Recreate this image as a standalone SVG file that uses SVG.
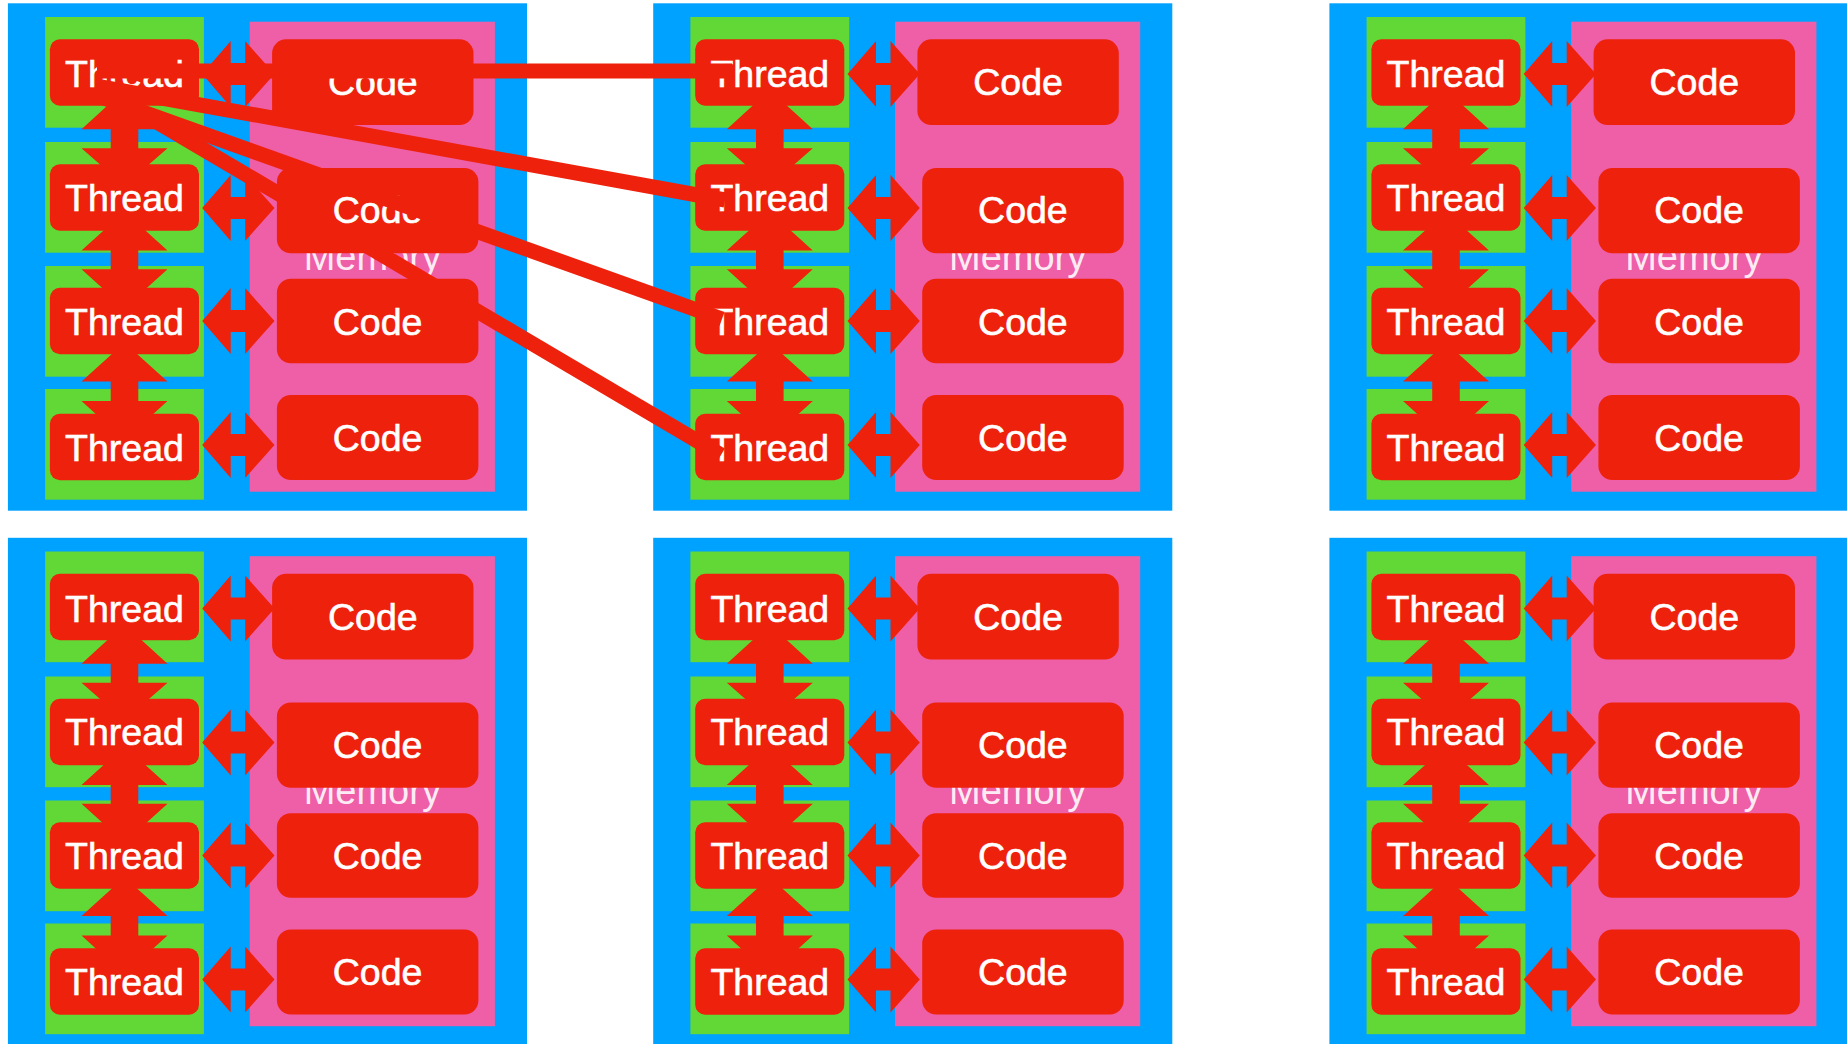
<svg xmlns="http://www.w3.org/2000/svg" xmlns:xlink="http://www.w3.org/1999/xlink" width="1847" height="1044" viewBox="0 0 1847 1044">
  <defs>
    <style>
      .panel { fill: #00A2FF; }
      .cell { fill: #61D836; }
      .mem { fill: #EF5FA7; }
      .box { fill: #EE220C; }
      .lbl { font-family: "Liberation Sans", Arial, Helvetica, sans-serif; font-size: 37.5px; fill: #FFFFFF; stroke: #FFFFFF; stroke-width: 0.6px; text-anchor: middle; }
      .memlbl { font-family: "Liberation Sans", Arial, Helvetica, sans-serif; font-size: 38px; fill: #FFFFFF; fill-opacity: 0.9; text-anchor: middle; }
      .arrow { fill: #EE220C; }
      .link { stroke: #EE220C; stroke-width: 15; fill: none; stroke-linecap: butt; }
    </style>
    <!-- double-headed block arrow between a thread and its code, centred on y=0 -->
    <path id="h-arrow" d="M202.2 0 L230.7 -33 L230.7 -11 L245.2 -11 L245.2 -33 L274.5 0 L245.2 33 L245.2 11 L230.7 11 L230.7 33 Z"/>
    <!-- vertical double arrows between neighbouring threads (tips tucked under the thread boxes) -->
    <g id="v-arrows">
      <polygon points="108.05,105 140.95,105 167.5,129.2 138.3,129.2 138.3,148.3 167.5,148.3 148.1,165.3 100.9,165.3 81.5,148.3 110.7,148.3 110.7,129.2 81.5,129.2"/>
      <polygon points="104.43,229.7 144.57,229.7 167.5,250.5 138.3,250.5 138.3,269.3 167.5,269.3 145.94,288.7 103.06,288.7 81.5,269.3 110.7,269.3 110.7,250.5 81.5,250.5"/>
      <polygon points="113.03,353 135.97,353 167.5,381.6 138.3,381.6 138.3,401 167.5,401 152.4,414.7 96.6,414.7 81.5,401 110.7,401 110.7,381.6 81.5,381.6"/>
    </g>
    <g id="h-arrows">
      <use xlink:href="#h-arrow" href="#h-arrow" y="74"/>
      <use xlink:href="#h-arrow" href="#h-arrow" y="208"/>
      <use xlink:href="#h-arrow" href="#h-arrow" y="321"/>
      <use xlink:href="#h-arrow" href="#h-arrow" y="445"/>
    </g>
  </defs>

  <rect width="1847" height="1044" fill="#FFFFFF"/>

  <!-- ===== Panel 1 (top left) ===== -->
  <g id="panel-1">
    <rect class="panel" x="7.9" y="3.3" width="519.1" height="507.4"/>
    <rect class="cell" x="45.1" y="17" width="158.8" height="110.7"/>
    <rect class="cell" x="45.1" y="142" width="158.8" height="110.7"/>
    <rect class="cell" x="45.1" y="266" width="158.8" height="110.7"/>
    <rect class="cell" x="45.1" y="389" width="158.8" height="110.7"/>
    <g id="p1-memory"><rect class="mem" x="249.7" y="21.7" width="245.2" height="470"/><text class="memlbl" x="372.3" y="269.5">Memory</text></g>
    <g id="p1-code-1"><rect class="box" x="272.1" y="39.3" width="201.4" height="85.7" rx="14"/><text class="lbl" x="372.8" y="95">Code</text></g>
    <g id="p1-code-2"><rect class="box" x="276.9" y="168" width="201.5" height="85.3" rx="14"/><text class="lbl" x="377.6" y="223.3">Code</text></g>
    <g id="p1-code-3"><rect class="box" x="276.9" y="278.7" width="201.5" height="84.6" rx="14"/><text class="lbl" x="377.6" y="334.5">Code</text></g>
    <g id="p1-code-4"><rect class="box" x="276.9" y="395" width="201.5" height="85" rx="14"/><text class="lbl" x="377.6" y="450.5">Code</text></g>
    <g id="p1-thread-1"><rect class="box" x="49.9" y="39.3" width="149.1" height="66.5" rx="10"/><text class="lbl" x="124.5" y="87">Thread</text></g>
    <g id="p1-thread-2"><rect class="box" x="49.9" y="164.3" width="149.1" height="66.5" rx="10"/><text class="lbl" x="124.5" y="210.5">Thread</text></g>
    <g id="p1-thread-3"><rect class="box" x="49.9" y="287.7" width="149.1" height="66.5" rx="10"/><text class="lbl" x="124.5" y="334.5">Thread</text></g>
    <g id="p1-thread-4"><rect class="box" x="49.9" y="413.7" width="149.1" height="66.5" rx="10"/><text class="lbl" x="124.5" y="460.5">Thread</text></g>
  </g>

  <!-- ===== Panel 2 (top middle) ===== -->
  <g id="panel-2" transform="translate(645.3 0)">
    <rect class="panel" x="7.9" y="3.3" width="519.1" height="507.4"/>
    <rect class="cell" x="45.1" y="17" width="158.8" height="110.7"/>
    <rect class="cell" x="45.1" y="142" width="158.8" height="110.7"/>
    <rect class="cell" x="45.1" y="266" width="158.8" height="110.7"/>
    <rect class="cell" x="45.1" y="389" width="158.8" height="110.7"/>
    <g id="p2-memory"><rect class="mem" x="249.7" y="21.7" width="245.2" height="470"/><text class="memlbl" x="372.3" y="269.5">Memory</text></g>
    <g id="p2-code-1"><rect class="box" x="272.1" y="39.3" width="201.4" height="85.7" rx="14"/><text class="lbl" x="372.8" y="95">Code</text></g>
    <g id="p2-code-2"><rect class="box" x="276.9" y="168" width="201.5" height="85.3" rx="14"/><text class="lbl" x="377.6" y="223.3">Code</text></g>
    <g id="p2-code-3"><rect class="box" x="276.9" y="278.7" width="201.5" height="84.6" rx="14"/><text class="lbl" x="377.6" y="334.5">Code</text></g>
    <g id="p2-code-4"><rect class="box" x="276.9" y="395" width="201.5" height="85" rx="14"/><text class="lbl" x="377.6" y="450.5">Code</text></g>
    <g id="p2-thread-1"><rect class="box" x="49.9" y="39.3" width="149.1" height="66.5" rx="10"/><text class="lbl" x="124.5" y="87">Thread</text></g>
    <g id="p2-thread-2"><rect class="box" x="49.9" y="164.3" width="149.1" height="66.5" rx="10"/><text class="lbl" x="124.5" y="210.5">Thread</text></g>
    <g id="p2-thread-3"><rect class="box" x="49.9" y="287.7" width="149.1" height="66.5" rx="10"/><text class="lbl" x="124.5" y="334.5">Thread</text></g>
    <g id="p2-thread-4"><rect class="box" x="49.9" y="413.7" width="149.1" height="66.5" rx="10"/><text class="lbl" x="124.5" y="460.5">Thread</text></g>
  </g>

  <!-- ===== Panel 3 (top right) ===== -->
  <g id="panel-3" transform="translate(1321.5 0)">
    <rect class="panel" x="7.9" y="3.3" width="519.1" height="507.4"/>
    <rect class="cell" x="45.1" y="17" width="158.8" height="110.7"/>
    <rect class="cell" x="45.1" y="142" width="158.8" height="110.7"/>
    <rect class="cell" x="45.1" y="266" width="158.8" height="110.7"/>
    <rect class="cell" x="45.1" y="389" width="158.8" height="110.7"/>
    <g id="p3-memory"><rect class="mem" x="249.7" y="21.7" width="245.2" height="470"/><text class="memlbl" x="372.3" y="269.5">Memory</text></g>
    <g id="p3-code-1"><rect class="box" x="272.1" y="39.3" width="201.4" height="85.7" rx="14"/><text class="lbl" x="372.8" y="95">Code</text></g>
    <g id="p3-code-2"><rect class="box" x="276.9" y="168" width="201.5" height="85.3" rx="14"/><text class="lbl" x="377.6" y="223.3">Code</text></g>
    <g id="p3-code-3"><rect class="box" x="276.9" y="278.7" width="201.5" height="84.6" rx="14"/><text class="lbl" x="377.6" y="334.5">Code</text></g>
    <g id="p3-code-4"><rect class="box" x="276.9" y="395" width="201.5" height="85" rx="14"/><text class="lbl" x="377.6" y="450.5">Code</text></g>
    <g id="p3-thread-1"><rect class="box" x="49.9" y="39.3" width="149.1" height="66.5" rx="10"/><text class="lbl" x="124.5" y="87">Thread</text></g>
    <g id="p3-thread-2"><rect class="box" x="49.9" y="164.3" width="149.1" height="66.5" rx="10"/><text class="lbl" x="124.5" y="210.5">Thread</text></g>
    <g id="p3-thread-3"><rect class="box" x="49.9" y="287.7" width="149.1" height="66.5" rx="10"/><text class="lbl" x="124.5" y="334.5">Thread</text></g>
    <g id="p3-thread-4"><rect class="box" x="49.9" y="413.7" width="149.1" height="66.5" rx="10"/><text class="lbl" x="124.5" y="460.5">Thread</text></g>
  </g>

  <!-- ===== Panel 4 (bottom left) ===== -->
  <g id="panel-4" transform="translate(0 534.5)">
    <rect class="panel" x="7.9" y="3.3" width="519.1" height="507.4"/>
    <rect class="cell" x="45.1" y="17" width="158.8" height="110.7"/>
    <rect class="cell" x="45.1" y="142" width="158.8" height="110.7"/>
    <rect class="cell" x="45.1" y="266" width="158.8" height="110.7"/>
    <rect class="cell" x="45.1" y="389" width="158.8" height="110.7"/>
    <g id="p4-memory"><rect class="mem" x="249.7" y="21.7" width="245.2" height="470"/><text class="memlbl" x="372.3" y="269.5">Memory</text></g>
    <g id="p4-code-1"><rect class="box" x="272.1" y="39.3" width="201.4" height="85.7" rx="14"/><text class="lbl" x="372.8" y="95">Code</text></g>
    <g id="p4-code-2"><rect class="box" x="276.9" y="168" width="201.5" height="85.3" rx="14"/><text class="lbl" x="377.6" y="223.3">Code</text></g>
    <g id="p4-code-3"><rect class="box" x="276.9" y="278.7" width="201.5" height="84.6" rx="14"/><text class="lbl" x="377.6" y="334.5">Code</text></g>
    <g id="p4-code-4"><rect class="box" x="276.9" y="395" width="201.5" height="85" rx="14"/><text class="lbl" x="377.6" y="450.5">Code</text></g>
    <g id="p4-thread-1"><rect class="box" x="49.9" y="39.3" width="149.1" height="66.5" rx="10"/><text class="lbl" x="124.5" y="87">Thread</text></g>
    <g id="p4-thread-2"><rect class="box" x="49.9" y="164.3" width="149.1" height="66.5" rx="10"/><text class="lbl" x="124.5" y="210.5">Thread</text></g>
    <g id="p4-thread-3"><rect class="box" x="49.9" y="287.7" width="149.1" height="66.5" rx="10"/><text class="lbl" x="124.5" y="334.5">Thread</text></g>
    <g id="p4-thread-4"><rect class="box" x="49.9" y="413.7" width="149.1" height="66.5" rx="10"/><text class="lbl" x="124.5" y="460.5">Thread</text></g>
  </g>

  <!-- ===== Panel 5 (bottom middle) ===== -->
  <g id="panel-5" transform="translate(645.3 534.5)">
    <rect class="panel" x="7.9" y="3.3" width="519.1" height="507.4"/>
    <rect class="cell" x="45.1" y="17" width="158.8" height="110.7"/>
    <rect class="cell" x="45.1" y="142" width="158.8" height="110.7"/>
    <rect class="cell" x="45.1" y="266" width="158.8" height="110.7"/>
    <rect class="cell" x="45.1" y="389" width="158.8" height="110.7"/>
    <g id="p5-memory"><rect class="mem" x="249.7" y="21.7" width="245.2" height="470"/><text class="memlbl" x="372.3" y="269.5">Memory</text></g>
    <g id="p5-code-1"><rect class="box" x="272.1" y="39.3" width="201.4" height="85.7" rx="14"/><text class="lbl" x="372.8" y="95">Code</text></g>
    <g id="p5-code-2"><rect class="box" x="276.9" y="168" width="201.5" height="85.3" rx="14"/><text class="lbl" x="377.6" y="223.3">Code</text></g>
    <g id="p5-code-3"><rect class="box" x="276.9" y="278.7" width="201.5" height="84.6" rx="14"/><text class="lbl" x="377.6" y="334.5">Code</text></g>
    <g id="p5-code-4"><rect class="box" x="276.9" y="395" width="201.5" height="85" rx="14"/><text class="lbl" x="377.6" y="450.5">Code</text></g>
    <g id="p5-thread-1"><rect class="box" x="49.9" y="39.3" width="149.1" height="66.5" rx="10"/><text class="lbl" x="124.5" y="87">Thread</text></g>
    <g id="p5-thread-2"><rect class="box" x="49.9" y="164.3" width="149.1" height="66.5" rx="10"/><text class="lbl" x="124.5" y="210.5">Thread</text></g>
    <g id="p5-thread-3"><rect class="box" x="49.9" y="287.7" width="149.1" height="66.5" rx="10"/><text class="lbl" x="124.5" y="334.5">Thread</text></g>
    <g id="p5-thread-4"><rect class="box" x="49.9" y="413.7" width="149.1" height="66.5" rx="10"/><text class="lbl" x="124.5" y="460.5">Thread</text></g>
  </g>

  <!-- ===== Panel 6 (bottom right) ===== -->
  <g id="panel-6" transform="translate(1321.5 534.5)">
    <rect class="panel" x="7.9" y="3.3" width="519.1" height="507.4"/>
    <rect class="cell" x="45.1" y="17" width="158.8" height="110.7"/>
    <rect class="cell" x="45.1" y="142" width="158.8" height="110.7"/>
    <rect class="cell" x="45.1" y="266" width="158.8" height="110.7"/>
    <rect class="cell" x="45.1" y="389" width="158.8" height="110.7"/>
    <g id="p6-memory"><rect class="mem" x="249.7" y="21.7" width="245.2" height="470"/><text class="memlbl" x="372.3" y="269.5">Memory</text></g>
    <g id="p6-code-1"><rect class="box" x="272.1" y="39.3" width="201.4" height="85.7" rx="14"/><text class="lbl" x="372.8" y="95">Code</text></g>
    <g id="p6-code-2"><rect class="box" x="276.9" y="168" width="201.5" height="85.3" rx="14"/><text class="lbl" x="377.6" y="223.3">Code</text></g>
    <g id="p6-code-3"><rect class="box" x="276.9" y="278.7" width="201.5" height="84.6" rx="14"/><text class="lbl" x="377.6" y="334.5">Code</text></g>
    <g id="p6-code-4"><rect class="box" x="276.9" y="395" width="201.5" height="85" rx="14"/><text class="lbl" x="377.6" y="450.5">Code</text></g>
    <g id="p6-thread-1"><rect class="box" x="49.9" y="39.3" width="149.1" height="66.5" rx="10"/><text class="lbl" x="124.5" y="87">Thread</text></g>
    <g id="p6-thread-2"><rect class="box" x="49.9" y="164.3" width="149.1" height="66.5" rx="10"/><text class="lbl" x="124.5" y="210.5">Thread</text></g>
    <g id="p6-thread-3"><rect class="box" x="49.9" y="287.7" width="149.1" height="66.5" rx="10"/><text class="lbl" x="124.5" y="334.5">Thread</text></g>
    <g id="p6-thread-4"><rect class="box" x="49.9" y="413.7" width="149.1" height="66.5" rx="10"/><text class="lbl" x="124.5" y="460.5">Thread</text></g>
  </g>

  <!-- ===== Connectors ===== -->
  <g id="connectors" class="arrow">
    <g transform="translate(0 0)"><use xlink:href="#h-arrows" href="#h-arrows"/><use xlink:href="#v-arrows" href="#v-arrows"/></g>
    <g transform="translate(645.3 0)"><use xlink:href="#h-arrows" href="#h-arrows"/><use xlink:href="#v-arrows" href="#v-arrows"/></g>
    <g transform="translate(1321.5 0)"><use xlink:href="#h-arrows" href="#h-arrows"/><use xlink:href="#v-arrows" href="#v-arrows"/></g>
    <g transform="translate(0 534.5)"><use xlink:href="#h-arrows" href="#h-arrows"/><use xlink:href="#v-arrows" href="#v-arrows"/></g>
    <g transform="translate(645.3 534.5)"><use xlink:href="#h-arrows" href="#h-arrows"/><use xlink:href="#v-arrows" href="#v-arrows"/></g>
    <g transform="translate(1321.5 534.5)"><use xlink:href="#h-arrows" href="#h-arrows"/><use xlink:href="#v-arrows" href="#v-arrows"/></g>
    <!-- links from the first thread of panel 1 to each thread of panel 2 -->
    <line class="link" x1="97" y1="71" x2="732" y2="71"/>
    <line class="link" x1="101" y1="87" x2="725" y2="200"/>
    <line class="link" x1="101" y1="97" x2="722" y2="319"/>
    <line class="link" x1="101" y1="89" x2="721" y2="455"/>
  </g>
</svg>
